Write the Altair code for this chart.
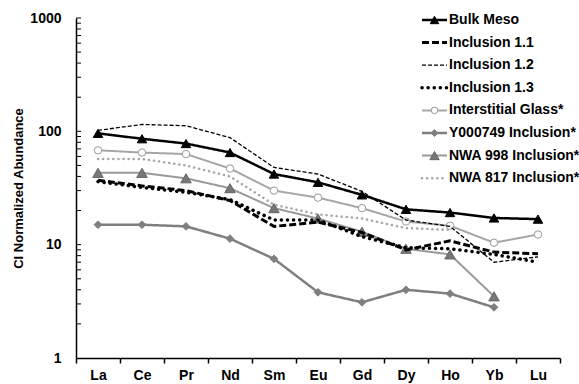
import altair as alt
import pandas as pd

elements = ["La", "Ce", "Pr", "Nd", "Sm", "Eu", "Gd", "Dy", "Ho", "Yb", "Lu"]
series_names = ["Bulk Meso", "Inclusion 1.1", "Inclusion 1.2", "Inclusion 1.3",
                "Interstitial Glass*", "Y000749 Inclusion*", "NWA 998 Inclusion*",
                "NWA 817 Inclusion*"]

bulk_meso = [96, 86, 78, 65, 42, 35.5, 27.5, 20.5, 19.2, 17.2, 16.8]
inclusion_11 = [37, 33, 30, 24.5, 14.5, 15.8, 12.8, 9.0, 10.8, 8.6, 8.3]
inclusion_12 = [102, 115, 112, 88, 48, 42, 29.5, 16.5, 14.5, 7.0, 7.8]
inclusion_13 = [36, 32, 29, 25, 16.5, 16.5, 11.8, 9.4, 9.2, 8.2, 7.0]
interstitial_glass = [68, 65, 63, 47, 30, 26, 21, 16, 14.7, 10.4, 12.3]
y000749 = [15, 15, 14.5, 11.3, 7.5, 3.8, 3.1, 4.0, 3.7, 2.8, None]
nwa_998 = [43, 43, 38.5, 31.5, 21, 17, 13, 9.2, 8.2, 3.5, None]
nwa_817 = [57, 57, 50, 40, 22.5, 18.5, 17, 14, 13.5, None, None]

series_values = [bulk_meso, inclusion_11, inclusion_12, inclusion_13,
                 interstitial_glass, y000749, nwa_998, nwa_817]

y_labels = [1, 10, 100, 1000]

# style per series: line colour, width, dash, cap, marker shape, fill, stroke, size
styles = {
    "Bulk Meso": dict(color="#000000", width=2.5, dash=[1, 0], cap="butt",
                      shape="triangle-up", fill="#000000", stroke="#000000", size=90),
    "Inclusion 1.1": dict(color="#000000", width=3, dash=[7, 3], cap="butt"),
    "Inclusion 1.2": dict(color="#000000", width=1.3, dash=[4, 2], cap="butt"),
    "Inclusion 1.3": dict(color="#000000", width=3.5, dash=[0.1, 6], cap="round"),
    "Interstitial Glass*": dict(color="#a6a6a6", width=2, dash=[1, 0], cap="butt",
                                shape="circle", fill="#ffffff", stroke="#999999", size=55),
    "Y000749 Inclusion*": dict(color="#7f7f7f", width=2.5, dash=[1, 0], cap="butt",
                               shape="diamond", fill="#7f7f7f", stroke="#7f7f7f", size=60),
    "NWA 998 Inclusion*": dict(color="#9a9a9a", width=2, dash=[1, 0], cap="butt",
                               shape="triangle-up", fill="#777777", stroke="#666666", size=110),
    "NWA 817 Inclusion*": dict(color="#a6a6a6", width=2.5, dash=[0.1, 5], cap="round"),
}

rows = []
for name, vals in zip(series_names, series_values):
    for i, (el, v) in enumerate(zip(elements, vals)):
        if v is not None:
            rows.append({"series": name, "element": el, "pos": i + 0.5, "value": v})
df = pd.DataFrame(rows)

FONT = "Liberation Sans"
W, H = 484, 340

label_list = "[" + ",".join("'%s'" % e for e in elements) + "]"
x_values = [k * 0.5 for k in range(0, 2 * len(elements) + 1)]

X = alt.X("pos:Q",
          scale=alt.Scale(domain=[0, len(elements)], nice=False, zero=False),
          axis=alt.Axis(title=None, values=x_values, grid=False,
                        labelExpr="datum.value % 1 == 0.5 ? " + label_list + "[floor(datum.value)] : ''",
                        labelOverlap=False, labelFlush=False,
                        tickSize=5, tickColor="black", tickWidth=1.5,
                        tickOpacity={"condition": {"test": "datum.value % 1 == 0", "value": 1}, "value": 0},
                        domainColor="black", domainWidth=1.5,
                        labelFont=FONT, labelFontSize=14, labelFontWeight="bold",
                        labelColor="black", labelPadding=5))
Y = alt.Y("value:Q",
          scale=alt.Scale(type="log", domain=[1, 1000], nice=False),
          axis=alt.Axis(title="CI Normalized Abundance", values=y_labels, format="d",
                        grid=False, ticks=False, domainColor="black", domainWidth=1.5,
                        labelFont=FONT, labelFontSize=14, labelFontWeight="bold",
                        labelColor="black", labelPadding=15,
                        titleFont=FONT, titleFontSize=13, titleFontWeight="bold",
                        titleColor="black", titlePadding=4))

layers = []

# inside ticks on the log axis
ytick_values = [m * 10 ** e for e in range(3) for m in range(2, 10)] + [10, 100, 1000]
ticks = alt.Chart(pd.DataFrame({"value": ytick_values})).mark_rule(
    color="black", strokeWidth=1).encode(y=Y, x=alt.value(0), x2=alt.value(5))
layers.append(ticks)

draw_order = ["NWA 817 Inclusion*", "Y000749 Inclusion*", "NWA 998 Inclusion*",
              "Interstitial Glass*", "Inclusion 1.3", "Inclusion 1.1",
              "Inclusion 1.2", "Bulk Meso"]
for name in draw_order:
    st = styles[name]
    sdf = df[df["series"] == name]
    line = alt.Chart(sdf).mark_line(color=st["color"], strokeWidth=st["width"],
                                    strokeDash=st["dash"], strokeCap=st["cap"]).encode(x=X, y=Y)
    layers.append(line)
    if "shape" in st:
        pts = alt.Chart(sdf).mark_point(shape=st["shape"], filled=True, fill=st["fill"],
                                        stroke=st["stroke"], strokeWidth=1, size=st["size"],
                                        opacity=1).encode(x=X, y=Y)
        layers.append(pts)

# legend drawn inside the plot (top right)
lx0, lx1, ltx = 346, 371, 373
ly0, lstep = 2, 22.6
for i, name in enumerate(series_names):
    st = styles[name]
    yy = ly0 + i * lstep
    one = pd.DataFrame({"label": [name]})
    layers.append(alt.Chart(one).mark_rule(color=st["color"], strokeWidth=st["width"],
                                           strokeDash=st["dash"], strokeCap=st["cap"]).encode(
        x=alt.value(lx0), x2=alt.value(lx1), y=alt.value(yy)))
    if "shape" in st:
        layers.append(alt.Chart(one).mark_point(shape=st["shape"], filled=True, fill=st["fill"],
                                                stroke=st["stroke"], strokeWidth=1,
                                                size=st["size"] * 0.8, opacity=1).encode(
            x=alt.value((lx0 + lx1) / 2), y=alt.value(yy)))
    layers.append(alt.Chart(one).mark_text(align="left", baseline="middle", font=FONT,
                                           fontSize=14, fontWeight="bold", color="black").encode(
        x=alt.value(ltx), y=alt.value(yy), text="label:N"))

chart = alt.layer(*layers).properties(
    width=W, height=H, autosize="none",
    padding={"left": 76, "top": 18, "right": 19, "bottom": 26},
    background="white",
).configure_view(strokeWidth=0)

chart.save("out.html", embed_options={"renderer": "svg", "actions": False})
